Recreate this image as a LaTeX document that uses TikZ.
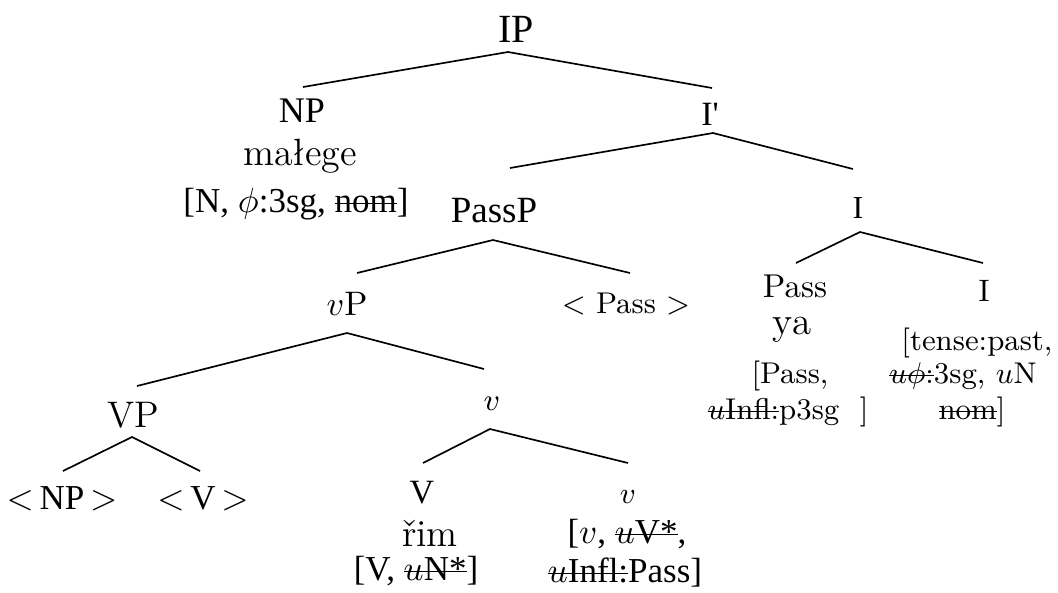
\RequirePackage{fix-cm}
\documentclass[tikz,border=0pt]{standalone}
\usepackage{fontspec}
\newfontfamily\tms{Liberation Serif}
\newcommand\fsz[1]{\fontsize{#1}{#1}\selectfont}
\newsavebox\strkbox
\newcommand\strk[1]{\sbox\strkbox{#1}\rlap{\usebox\strkbox}\rule[0.22em]{\wd\strkbox}{0.05em}}
\begin{document}
\begin{tikzpicture}[x=0.3pt,y=-0.3pt,
  lab/.style={inner sep=0pt,anchor=base},
  tm/.style={lab,font=\tms\fsz{#1}},
  lm/.style={lab,font=\fsz{#1}},
  br/.style={line width=0.5pt}]
\useasboundingbox (0,0) rectangle (1058,592);
% ---- nodes
\node[tm=12]   (IP)     at (516,42)  {IP};
\node[tm=10.8] (NP)     at (302,122) {NP};
\node[lm=11.4] (malege) at (300,165) {małege};
\node[tm=10.5] (NPf)    at (296,212) {[N, $\phi$:3sg, \strk{nom}]};
\node[tm=10.2] (Ibar)   at (710,125) {I'};
\node[tm=11.1] (PassP)  at (494,222) {PassP};
\node[tm=9.6]  (I)      at (858,218) {I};
\node[lm=10.2] (vP)     at (347,315) {$v$P};
\node[lm=9]    (tPass)  at (626,313) {$<$ Pass $>$};
\node[lm=9.9]  (Pass)   at (795,297) {Pass};
\node[lm=11.7] (ya)     at (792,334) {ya};
\node[lm=9]    (Passf1) at (790,383) {[Pass,};
\node[lm=9]    (Passf2) at (788,419) {\strk{$u$Infl:}p3sg\ \ ]};
\node[lm=9.3]  (Ir)     at (984,301) {I};
\node[lm=9]    (Irf1)   at (977,350) {[tense:past,};
\node[lm=9]    (Irf2)   at (963,383) {\strk{$u\phi$:}3sg, $u$N};
\node[lm=9]    (Irf3)   at (972,419) {\strk{nom}]};
\node[lm=11.1] (VP)     at (133,427) {VP};
\node[lm=9.3]  (v)      at (492,410) {$v$};
\node[tm=10.5] (tNP)    at (62,509)  {$<$\,NP\,$>$};
\node[tm=10.5] (tV)     at (203,509) {$<$\,V\,$>$};
\node[tm=10.2] (V)      at (422,503) {V};
\node[lm=11.4] (rim)    at (430,546) {řim};
\node[tm=10.5] (Vf)     at (416,580) {[V, \strk{$u$N*}]};
\node[lm=9]    (vr)     at (628,503) {$v$};
\node[tm=10.5] (vrf1)   at (627,543) {[$v$, \strk{$u$V*},};
\node[tm=10.5] (vrf2)   at (625,582) {\strk{$u$Infl:}Pass]};
% ---- branches
\draw[br] ([shift={(1,-35)}]NP.base) -- ([shift={(-8,10)}]IP.base) -- ([shift={(2,-37)}]Ibar.base);
\draw[br] ([shift={(16,-54)}]PassP.base) -- ([shift={(3,8)}]Ibar.base) -- ([shift={(-5,-49)}]I.base);
\draw[br] ([shift={(10,-42)}]vP.base) -- ([shift={(-1,18)}]PassP.base) -- ([shift={(4,-40)}]tPass.base);
\draw[br] ([shift={(1,-34)}]Pass.base) -- ([shift={(2,14)}]I.base) -- ([shift={(-1,-38)}]Ir.base);
\draw[br] ([shift={(4,-41)}]VP.base) -- ([shift={(0,18)}]vP.base) -- ([shift={(-8,-41)}]v.base);
\draw[br] ([shift={(1,-38)}]tNP.base) -- ([shift={(-1,10)}]VP.base) -- ([shift={(-3,-38)}]tV.base);
\draw[br] ([shift={(1,-40)}]V.base) -- ([shift={(-2,19)}]v.base) -- ([shift={(0,-40)}]vr.base);
\end{tikzpicture}
\end{document}
